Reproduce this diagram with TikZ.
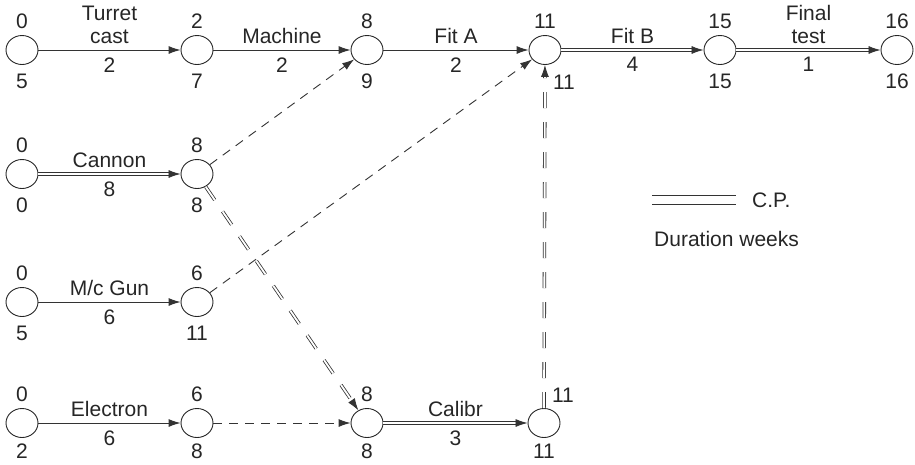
\documentclass[tikz,border=0pt]{standalone}
\usepackage{fontspec}
\setmainfont{Liberation Sans}
\usetikzlibrary{arrows.meta,shapes.geometric}
\begin{document}
\begin{tikzpicture}[x=1pt,y=-1pt,
  every node/.style={font=\fontsize{21}{23}\selectfont, text=black!85},
  ev/.style={draw=black!85, ellipse, minimum width=32pt, minimum height=29pt, inner sep=0pt, line width=0.9pt},
  lbl/.style={inner sep=0pt},
  tip/.style={-{Latex[length=12pt,width=8pt]}},
  act/.style={draw=black!80, line width=0.9pt, tip},
  cp/.style={draw=black!80, line width=0.8pt, double, double distance=1.8pt, tip},
  dum/.style={act, dash pattern=on 9pt off 7pt},
  cpd/.style={cp, dash pattern=on 16pt off 14pt},
  up/.style={midway, above=5pt, inner sep=1pt, align=center},
  dn/.style={midway, below=6pt, inner sep=1pt},
]
\useasboundingbox (0,0) rectangle (915,464);
% events
\node[ev] (n1) at (22,50) {};
\node[ev] (n2) at (197,50) {};
\node[ev] (n3) at (367,50) {};
\node[ev] (n4) at (545,50) {};
\node[ev] (n5) at (720,50) {};
\node[ev] (n6) at (897,50) {};
\node[ev] (c1) at (22,174) {};
\node[ev] (c2) at (197,174) {};
\node[ev] (m1) at (22,302) {};
\node[ev] (m2) at (197,302) {};
\node[ev] (e1) at (22,423) {};
\node[ev] (e2) at (197,423) {};
\node[ev] (k1) at (367,423) {};
\node[ev] (k2) at (544,423) {};
% event numbers
\foreach \n/\a/\b in {n1/0/5, n2/2/7, n3/8/9, n5/15/15, n6/16/16, c1/0/0, c2/8/8, m1/0/5, m2/6/11}{
  \node[lbl, above=6pt] at (\n.north) {\a};
  \node[lbl, below=9pt] at (\n.south) {\b};
}
\foreach \n/\a/\b in {e1/0/2, e2/6/8, k1/8/8}{
  \node[lbl, above=6pt] at (\n.north) {\a};
  \node[lbl, below=6pt] at (\n.south) {\b};
}
\node[lbl, above=6pt] (n4t) at (n4.north) {11};
\node[lbl] (n4r) at (564,82) {11};
\node[lbl] (k2r) at (563,395) {11};
\node[lbl, below=6pt] (k2b) at (k2.south) {11};
% activities
\draw[act] (n1) -- node[up]{Turret\\cast} node[dn]{2} (n2);
\draw[act] (n2) -- node[up]{Machine} node[dn]{2} (n3);
\draw[act] (n3) -- node[up]{Fit A} node[dn]{2} (n4);
\draw[cp] (n4) -- node[up]{Fit B} node[dn]{4} (n5);
\draw[cp] (n5) -- node[up]{Final\\test} node[dn]{1} (n6);
\draw[cp] (c1) -- node[up]{Cannon} node[dn]{8} (c2);
\draw[act] (m1) -- node[up]{M/c Gun} node[dn]{6} (m2);
\draw[act] (e1) -- node[up]{Electron} node[dn]{6} (e2);
\draw[cp] (k1) -- node[up]{Calibr} node[dn]{3} (k2);
% dummies
\draw[dum] (c2) -- (n3);
\draw[dum] (m2) -- (n4);
\draw[dum] (e2) -- (k1);
\draw[cpd] (c2) -- (k1);
\draw[cpd] (k2) -- (n4);
% legend
\coordinate (la) at (652,195);
\coordinate (lb) at (736,195);
\coordinate (lc) at (652,204);
\coordinate (ld) at (736,204);
\draw[black!80, line width=0.8pt] (la) -- (lb) (lc) -- (ld);
\node[lbl, anchor=west] (cpt) at (752,200) {C.P.};
\node[lbl, anchor=west] (dur) at (654,239) {Duration weeks};
\end{tikzpicture}
\end{document}
